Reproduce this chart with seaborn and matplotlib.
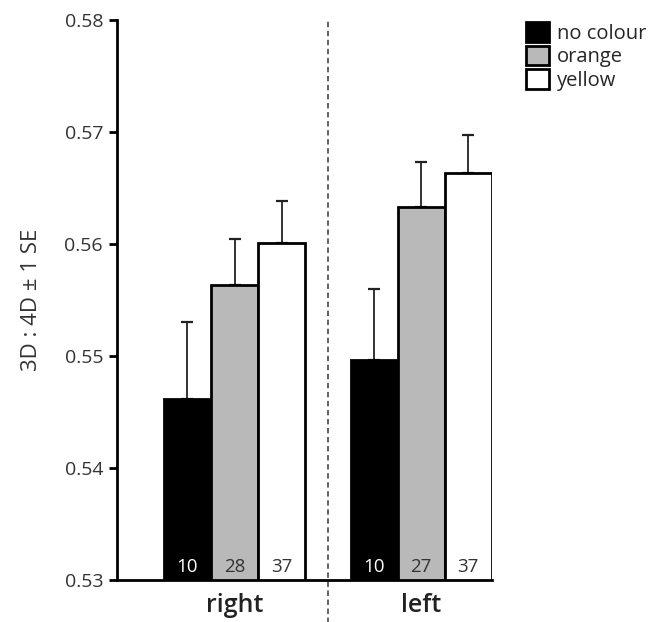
import pandas as pd
import seaborn as sns
import matplotlib
matplotlib.use('Agg')
import matplotlib.pyplot as plt

# data
sides = ['right', 'left']
colours = ['no colour', 'orange', 'yellow']
ratio_right = [0.5462, 0.5563, 0.5601]
ratio_left = [0.5496, 0.5633, 0.5663]
se_right = [0.0068, 0.0041, 0.0037]
se_left = [0.0064, 0.0040, 0.0034]
n_right = [10, 28, 37]
n_left = [10, 27, 37]

df = pd.DataFrame({
    'side': [s for s in sides for _ in colours],
    'colour': colours * 2,
    'ratio': ratio_right + ratio_left,
    'se': se_right + se_left,
    'n': n_right + n_left,
})

sns.set_style('ticks')
plt.rcParams['font.family'] = ['Open Sans', 'DejaVu Sans']

fig = plt.figure(figsize=(6.57, 6.22), dpi=100)
ax = fig.add_axes([0.178, 0.0675, 0.571, 0.9005])

pal = {'no colour': 'black', 'orange': '#b9b9b9', 'yellow': 'white'}
sns.barplot(data=df, x='side', y='ratio', hue='colour', order=sides,
            hue_order=colours, palette=pal, width=0.756, errorbar=None,
            edgecolor='black', linewidth=2, saturation=1, ax=ax, zorder=2)

# error bars (upper only) and sample sizes
bar_groups = list(ax.containers)
for ci, cont in enumerate(bar_groups):
    sub = df[df['colour'] == colours[ci]].set_index('side').loc[sides]
    for bar, (_, row) in zip(cont, sub.iterrows()):
        xc = bar.get_x() + bar.get_width() / 2
        ax.errorbar(xc, row['ratio'], yerr=[[0], [row['se']]], fmt='none',
                    ecolor='#222222', elinewidth=1.3, capsize=4, capthick=1.6,
                    zorder=1)
        ax.text(xc, 0.5304, str(row['n']), ha='center', va='bottom',
                fontsize=13.5, color='white' if ci == 0 else '#333333',
                zorder=3)

ax.axvline(0.5, ymin=-0.08, ymax=1, ls=(0, (3, 2)), color='#555555',
           lw=1.3, clip_on=False)

ax.set_ylim(0.53, 0.58)
ax.set_xlim(-0.63, 1.38)
ax.set_yticks([0.53, 0.54, 0.55, 0.56, 0.57, 0.58])
ax.set_yticklabels(['0.53', '0.54', '0.55', '0.56', '0.57', '0.58'])
ax.tick_params(axis='y', labelsize=14, width=2, length=6, color='black',
               labelcolor='#333333', pad=4)
ax.tick_params(axis='x', length=0, labelsize=18, pad=9, labelcolor='#222222')
for lab in ax.get_xticklabels():
    lab.set_fontweight('semibold')
ax.set_xlabel('')
ax.set_ylabel('3D : 4D ± 1 SE', fontsize=16, color='#333333', labelpad=16)
sns.despine(ax=ax)
for sp in ['left', 'bottom']:
    ax.spines[sp].set_linewidth(2)
    ax.spines[sp].set_color('black')

ax.legend(title=None, loc='upper left', bbox_to_anchor=(1.07, 1.01),
          frameon=False, fontsize=14.5, handlelength=1.1, handleheight=1.1,
          handletextpad=0.4, labelspacing=0.1, borderaxespad=0)

fig.savefig('out.png', dpi=100)
